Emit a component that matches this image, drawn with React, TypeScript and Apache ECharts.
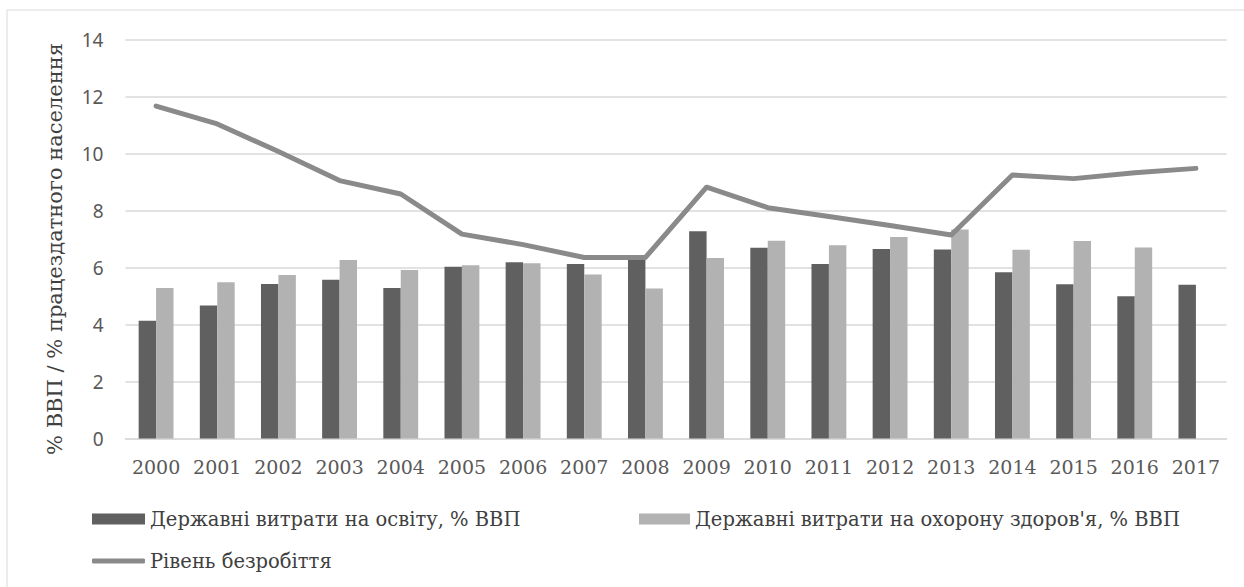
import React, { useEffect, useRef } from "react";
import * as echarts from "echarts";

// Years on the category axis
const years = [
  "2000", "2001", "2002", "2003", "2004", "2005", "2006", "2007", "2008",
  "2009", "2010", "2011", "2012", "2013", "2014", "2015", "2016", "2017",
];

// Public spending on education, % of GDP
const educationSpending = [
  4.14, 4.67, 5.43, 5.58, 5.29, 6.03, 6.19, 6.13, 6.27,
  7.28, 6.7, 6.13, 6.66, 6.64, 5.84, 5.42, 5.0, 5.4,
];

// Public spending on health care, % of GDP (no value for 2017)
const healthSpending: (number | null)[] = [
  5.29, 5.49, 5.74, 6.27, 5.92, 6.09, 6.16, 5.76, 5.27,
  6.34, 6.95, 6.79, 7.08, 7.34, 6.63, 6.94, 6.71, null,
];

// Unemployment rate, % of working-age population
const unemploymentRate = [
  11.68, 11.05, 10.08, 9.06, 8.59, 7.18, 6.81, 6.36, 6.36,
  8.83, 8.11, 7.8, 7.48, 7.15, 9.26, 9.13, 9.34, 9.49,
];

const yTicks = { min: 0, max: 14, interval: 2 };

const seriesNames = {
  education: "Державні витрати на освіту, % ВВП",
  health: "Державні витрати на охорону здоров'я, % ВВП",
  unemployment: "Рівень безробіття",
};

const axisName = "% ВВП / % працездатного населення";

const serif = "DejaVu Serif";
const sans = "Noto Sans";

export default function App() {
  const ref = useRef<HTMLDivElement>(null);

  useEffect(() => {
    document.body.style.margin = "0";
    if (!ref.current) return;
    const chart = echarts.init(ref.current, undefined, { renderer: "svg" });

    const legendText = { fontFamily: serif, fontSize: 19.5, color: "#404040" };
    const legendBase = { padding: 0, textStyle: legendText };

    chart.setOption({
      animation: false,
      backgroundColor: "#ffffff",
      graphic: [
        {
          type: "rect",
          shape: { x: 7, y: 10, width: 1300, height: 700 },
          style: { fill: "none", stroke: "#d9d9d9", lineWidth: 1 },
          silent: true,
        },
        {
          // vertical axis title
          type: "text",
          x: 55,
          y: 249,
          rotation: Math.PI / 2,
          style: {
            text: axisName,
            fontFamily: serif,
            fontSize: 21,
            fill: "#404040",
            align: "center",
            verticalAlign: "middle",
          },
          silent: true,
        },
      ],
      grid: { left: 125.5, right: 17.5, top: 40, bottom: 148.5 },
      legend: [
        {
          ...legendBase,
          data: [seriesNames.education],
          left: 92,
          top: 509,
          itemWidth: 53,
          itemHeight: 11,
          icon: "rect",
        },
        {
          ...legendBase,
          data: [seriesNames.health],
          left: 639,
          top: 509,
          itemWidth: 51,
          itemHeight: 11,
          icon: "rect",
        },
        {
          ...legendBase,
          data: [seriesNames.unemployment],
          left: 92,
          top: 551,
          itemWidth: 53,
          itemHeight: 5,
          icon: "roundRect",
        },
      ],
      xAxis: {
        type: "category",
        data: years,
        axisLine: { show: true, lineStyle: { color: "#d9d9d9", width: 1.5 } },
        axisTick: { show: false },
        axisLabel: {
          interval: 0,
          fontFamily: serif,
          fontSize: 19,
          color: "#595959",
          margin: 19,
        },
      },
      yAxis: {
        type: "value",
        min: yTicks.min,
        max: yTicks.max,
        interval: yTicks.interval,
        axisLine: { show: false },
        axisTick: { show: false },
        axisLabel: { fontFamily: sans, fontSize: 19, color: "#595959", margin: 22 },
        splitLine: { lineStyle: { color: "#d9d9d9", width: 1.5 } },
      },
      series: [
        {
          name: seriesNames.education,
          type: "bar",
          data: educationSpending,
          barWidth: "28.5%",
          barGap: "0%",
          itemStyle: { color: "#606060" },
        },
        {
          name: seriesNames.health,
          type: "bar",
          data: healthSpending,
          barWidth: "28.5%",
          barGap: "0%",
          itemStyle: { color: "#b2b2b2" },
        },
        {
          name: seriesNames.unemployment,
          type: "line",
          data: unemploymentRate,
          symbol: "none",
          itemStyle: { color: "#8a8a8a" },
          lineStyle: { color: "#8a8a8a", width: 5, cap: "round", join: "round" },
        },
      ],
    });

    return () => chart.dispose();
  }, []);

  return <div ref={ref} style={{ width: 1244, height: 587 }} />;
}
